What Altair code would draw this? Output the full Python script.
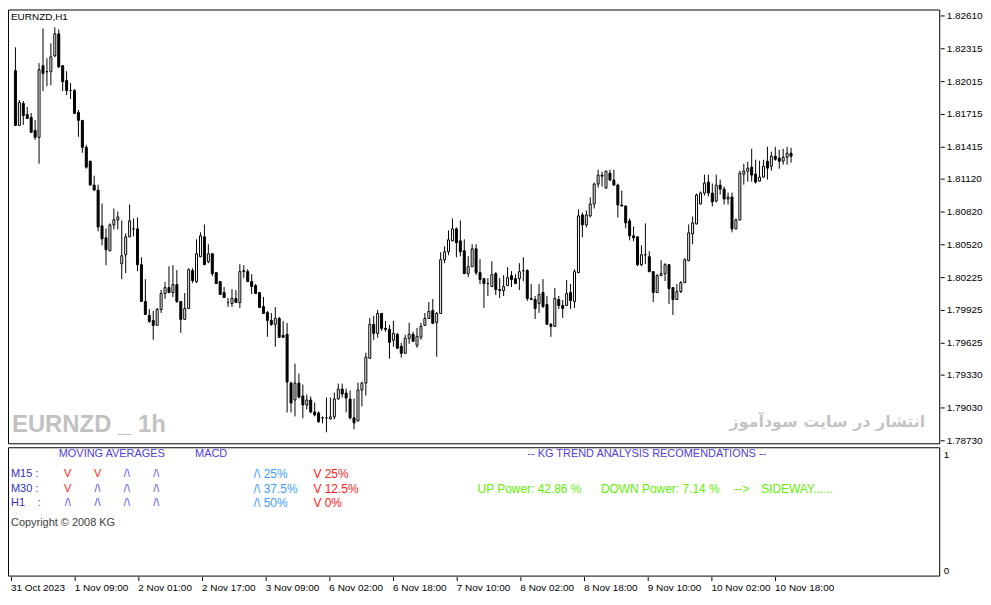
import json
import altair as alt
import pandas as pd

# ---------------- data (EURNZD H1 candles) ----------------
open_ = [1.82113,1.81615,1.81814,1.81715,1.81688,1.81561,1.81506,1.82158,1.82103,1.82103,
 1.82248,1.82447,1.82158,1.82022,1.81932,1.81932,1.81733,1.81652,1.81407,1.81281,
 1.81064,1.81019,1.80693,1.80585,1.80467,1.80702,1.80747,1.80350,1.80431,1.80594,
 1.80666,1.80666,1.80341,1.80006,1.79871,1.79834,1.79780,1.79934,1.80078,1.80133,
 1.80087,1.80160,1.80006,1.79843,1.79943,1.80286,1.80187,1.80413,1.80594,1.80368,
 1.80440,1.80268,1.80187,1.80087,1.79997,1.79988,1.80033,1.79997,1.80277,1.80277,
 1.80187,1.80151,1.80087,1.79961,1.79907,1.79834,1.79789,1.79852,1.79690,1.79699,
 1.79256,1.79102,1.79256,1.79138,1.79057,1.79102,1.78994,1.78985,1.78940,1.78940,
 1.78931,1.78949,1.79111,1.79201,1.79165,1.79111,1.78940,1.78912,1.79192,1.79256,
 1.79482,1.79798,1.79708,1.79898,1.79753,1.79744,1.79644,1.79699,1.79590,1.79527,
 1.79662,1.79699,1.79599,1.79671,1.79780,1.79852,1.79925,1.79816,1.79898,1.80386,
 1.80458,1.80557,1.80666,1.80557,1.80467,1.80259,1.80323,1.80485,1.80268,1.80214,
 1.80169,1.80142,1.80259,1.80114,1.80105,1.80151,1.80241,1.80214,1.80214,1.80286,
 1.80286,1.80033,1.80024,1.79988,1.80087,1.79979,1.79798,1.79771,1.80024,1.79970,
 1.79970,1.80087,1.80006,1.80268,1.80793,1.80702,1.80783,1.80892,1.81073,1.81154,
 1.81037,1.81172,1.81109,1.81064,1.80883,1.80874,1.80738,1.80603,1.80594,1.80341,
 1.80431,1.80413,1.80277,1.80087,1.80241,1.80259,1.80341,1.80133,1.80024,1.80096,
 1.80178,1.80377,1.80621,1.80711,1.80892,1.80991,1.81091,1.80991,1.80919,1.81064,
 1.81028,1.80937,1.80955,1.80666,1.80747,1.81163,1.81190,1.81227,1.81163,1.81100,
 1.81136,1.81281,1.81236,1.81326,1.81308,1.81281,1.81317,1.81353]

close = [1.81615,1.81823,1.81706,1.81679,1.81543,1.81506,1.82122,1.82085,1.82100,1.82239,
 1.82447,1.82149,1.82013,1.81932,1.81930,1.81724,1.81652,1.81407,1.81227,1.81064,
 1.81019,1.80684,1.80576,1.80476,1.80702,1.80747,1.80774,1.80422,1.80594,1.80738,
 1.80663,1.80341,1.80006,1.79880,1.79825,1.79780,1.79934,1.80078,1.80133,1.80087,
 1.80160,1.80006,1.79843,1.79943,1.80295,1.80196,1.80440,1.80603,1.80341,1.80440,
 1.80259,1.80169,1.80069,1.80042,1.79995,1.80033,1.79997,1.80277,1.80280,1.80187,
 1.80142,1.80078,1.79952,1.79898,1.79834,1.79789,1.79852,1.79671,1.79671,1.79265,
 1.79075,1.79256,1.79129,1.79057,1.79102,1.78994,1.78967,1.78903,1.78938,1.78942,
 1.78949,1.79111,1.79201,1.79156,1.79120,1.78940,1.78894,1.79192,1.79256,1.79491,
 1.79789,1.79708,1.79898,1.79753,1.79744,1.79626,1.79708,1.79572,1.79527,1.79662,
 1.79699,1.79635,1.79681,1.79771,1.79852,1.79916,1.79807,1.79898,1.80386,1.80458,
 1.80567,1.80666,1.80539,1.80458,1.80259,1.80323,1.80485,1.80268,1.80205,1.80169,
 1.80166,1.80250,1.80114,1.80105,1.80142,1.80223,1.80205,1.80169,1.80277,1.80283,
 1.80033,1.80024,1.79943,1.80069,1.79961,1.79798,1.79771,1.80033,1.79970,1.79943,
 1.80078,1.80015,1.80277,1.80783,1.80702,1.80793,1.80892,1.81073,1.81154,1.81151,
 1.81190,1.81109,1.81064,1.80883,1.80874,1.80720,1.80603,1.80585,1.80341,1.80431,
 1.80434,1.80277,1.80087,1.80241,1.80259,1.80341,1.80123,1.80024,1.80096,1.80178,
 1.80386,1.80630,1.80720,1.80973,1.80991,1.81082,1.80991,1.80910,1.81064,1.81028,
 1.80937,1.80955,1.80666,1.80747,1.81172,1.81190,1.81217,1.81154,1.81091,1.81136,
 1.81236,1.81217,1.81326,1.81299,1.81281,1.81317,1.81353,1.81326]

high = [1.82320,1.81841,1.81832,1.81778,1.81724,1.81652,1.82176,1.82492,1.82221,1.82356,
 1.82501,1.82483,1.82158,1.82103,1.81995,1.81941,1.81751,1.81652,1.81425,1.81281,
 1.81145,1.81064,1.80892,1.80666,1.80711,1.80847,1.80820,1.80738,1.80621,1.80883,
 1.80756,1.80765,1.80404,1.80205,1.79934,1.79916,1.79943,1.80105,1.80178,1.80323,
 1.80332,1.80286,1.80006,1.80078,1.80305,1.80305,1.80567,1.80630,1.80702,1.80521,
 1.80440,1.80268,1.80187,1.80133,1.80033,1.80114,1.80105,1.80341,1.80332,1.80295,
 1.80250,1.80160,1.80087,1.80042,1.79916,1.79889,1.79952,1.79861,1.79825,1.79807,
 1.79265,1.79428,1.79337,1.79238,1.79147,1.79129,1.79075,1.78994,1.78949,1.79120,
 1.79120,1.79165,1.79247,1.79247,1.79201,1.79183,1.79111,1.79256,1.79265,1.79527,
 1.79852,1.79870,1.79925,1.79898,1.79825,1.79780,1.79825,1.79708,1.79617,1.79690,
 1.79807,1.79717,1.79753,1.79807,1.79889,1.79997,1.80024,1.79907,1.80449,1.80503,
 1.80648,1.80756,1.80675,1.80738,1.80567,1.80413,1.80521,1.80521,1.80386,1.80214,
 1.80214,1.80368,1.80268,1.80214,1.80241,1.80314,1.80277,1.80250,1.80350,1.80404,
 1.80295,1.80160,1.80051,1.80160,1.80205,1.80051,1.79807,1.80123,1.80051,1.80015,
 1.80196,1.80160,1.80295,1.80838,1.80811,1.80829,1.80946,1.81082,1.81199,1.81181,
 1.81195,1.81199,1.81199,1.81073,1.81010,1.80874,1.80756,1.80684,1.80594,1.80512,
 1.80711,1.80458,1.80277,1.80250,1.80377,1.80345,1.80341,1.80133,1.80160,1.80187,
 1.80395,1.80702,1.80774,1.80982,1.81000,1.81154,1.81154,1.81073,1.81154,1.81109,
 1.81046,1.80991,1.80991,1.80756,1.81190,1.81254,1.81272,1.81389,1.81290,1.81281,
 1.81290,1.81407,1.81362,1.81407,1.81380,1.81389,1.81407,1.81398]

low = [1.81606,1.81606,1.81615,1.81661,1.81534,1.81479,1.81254,1.81923,1.81968,1.81977,
 1.82230,1.82131,1.81923,1.81886,1.81850,1.81715,1.81506,1.81353,1.81209,1.81055,
 1.81010,1.80639,1.80512,1.80332,1.80458,1.80657,1.80657,1.80205,1.80259,1.80585,
 1.80594,1.80277,1.79997,1.79871,1.79807,1.79644,1.79780,1.79898,1.80024,1.80078,
 1.80042,1.79988,1.79708,1.79843,1.79934,1.80169,1.80169,1.80404,1.80332,1.80350,
 1.80232,1.80165,1.80065,1.80033,1.79952,1.79952,1.79988,1.79943,1.80214,1.80178,
 1.80069,1.80069,1.79943,1.79889,1.79671,1.79771,1.79581,1.79668,1.79662,1.78985,
 1.78985,1.78949,1.79111,1.78931,1.79012,1.78976,1.78949,1.78894,1.78885,1.78804,
 1.78921,1.78921,1.79102,1.79120,1.78985,1.78921,1.78831,1.78903,1.79039,1.79138,
 1.79473,1.79644,1.79662,1.79726,1.79717,1.79473,1.79581,1.79568,1.79482,1.79518,
 1.79608,1.79626,1.79572,1.79644,1.79771,1.79843,1.79798,1.79491,1.79889,1.80350,
 1.80422,1.80548,1.80404,1.80413,1.80250,1.80223,1.80314,1.80241,1.80160,1.79943,
 1.80051,1.80133,1.80060,1.80033,1.80051,1.80142,1.80133,1.80160,1.80105,1.80187,
 1.80006,1.80015,1.79843,1.79898,1.79943,1.79789,1.79671,1.79762,1.79934,1.79852,
 1.79961,1.79934,1.79943,1.80259,1.80585,1.80675,1.80765,1.80847,1.81037,1.81046,
 1.81028,1.81100,1.81055,1.80765,1.80865,1.80666,1.80557,1.80548,1.80323,1.80323,
 1.80341,1.80268,1.79997,1.80078,1.80232,1.80187,1.79979,1.79871,1.80015,1.80078,
 1.80169,1.80368,1.80521,1.80702,1.80883,1.80964,1.80955,1.80865,1.80901,1.80973,
 1.80883,1.80883,1.80630,1.80660,1.80738,1.81064,1.81091,1.81091,1.81073,1.81091,
 1.81127,1.81109,1.81190,1.81281,1.81209,1.81245,1.81245,1.81263]

price_ticks = [1.82610, 1.82315, 1.82015, 1.81715, 1.81415, 1.81120, 1.80820,
               1.80520, 1.80225, 1.79925, 1.79625, 1.79330, 1.79030, 1.78730]

time_tick_bars = [0, 16, 32, 48, 64, 80, 96, 112, 128, 144, 160, 176, 192]
time_tick_labels = ["31 Oct 2023", "1 Nov 09:00", "2 Nov 01:00", "2 Nov 17:00",
                    "3 Nov 09:00", "6 Nov 02:00", "6 Nov 18:00", "7 Nov 10:00",
                    "8 Nov 02:00", "8 Nov 18:00", "9 Nov 10:00", "10 Nov 02:00",
                    "10 Nov 18:00"]

ma_rows = ["M15 :", "M30 :", "H1"]
ma_signals = [["V", "V", "/\\", "/\\"],
              ["V", "/\\", "/\\", "/\\"],
              ["/\\", "/\\", "/\\", "/\\"]]
macd_up = ["/\\ 25%", "/\\ 37.5%", "/\\ 50%"]
macd_down = ["V 25%", "V 12.5%", "V 0%"]
up_power = 42.86
down_power = 7.14

# ---------------- table ----------------
n = len(close)
df = pd.DataFrame({"bar": list(range(n)), "open": open_, "high": high,
                   "low": low, "close": close})

FONT = "Liberation Sans"
MAIN_W, MAIN_H, LOW_H = 937, 437, 130
xscale = alt.Scale(domain=[-0.625, 233.625], nice=False, zero=False)
yscale = alt.Scale(domain=[1.78694, 1.82665], nice=False, zero=False, round=True)
y_axis = alt.Axis(orient="right", values=price_ticks, format=".5f", tickSize=4,
                  labelPadding=2, domain=False, grid=False, labelOverlap=False,
                  labelBound=False, labelFlush=False)

one = pd.DataFrame({"k": [0]})


def frame(w, h):
    return alt.Chart(one).mark_rect(filled=False, stroke="black", strokeWidth=1).encode(
        x=alt.value(0.5), x2=alt.value(w - 0.5), y=alt.value(0.5), y2=alt.value(h - 0.5))


def txt(s, x, y, color, size=11, font=FONT, weight="normal", align="left"):
    return alt.Chart(one).mark_text(
        text=s, align=align, baseline="middle", fontSize=size, font=font,
        color=color, fontWeight=weight,
    ).encode(x=alt.value(x), y=alt.value(y))


base = alt.Chart(df)
x_enc = alt.X("bar:Q", scale=xscale, axis=None)

wick = base.mark_rule(color="black", strokeWidth=1).encode(
    x=x_enc,
    y=alt.Y("low:Q", scale=yscale, title=None, axis=y_axis),
    y2="high:Q",
)
body = base.mark_bar(size=2, stroke="black", strokeWidth=1, yOffset=0.5, y2Offset=0.5).encode(
    x=x_enc,
    y=alt.Y("open:Q", scale=yscale, title=None, axis=y_axis),
    y2="close:Q",
    fill=alt.condition("datum.close >= datum.open", alt.value("white"), alt.value("black")),
)

wm1 = txt("EURNZD _ 1h", 4, 418, "#c2c2c2", size=24, weight="bold")
wm2 = txt("انتشار در سایت سودآموز", 922, 415, "#c4c4c4", size=16,
          font="DejaVu Sans", weight="bold", align="right")
sym = txt("EURNZD,H1", 3, 8, "black", size=10)

main = alt.layer(wm1, wm2, wick, body, sym, frame(MAIN_W, MAIN_H)).properties(
    width=MAIN_W, height=MAIN_H)

# ---------------- lower indicator panel ----------------
HEAD = "#5040e0"
ROW = "#3030c0"
UPC = "#5a4ff0"
DNC = "#ff2020"
PCT = "#3c9cff"
GREEN = "#60f000"

label_expr = f"{json.dumps(time_tick_labels)}[indexof({json.dumps(time_tick_bars)}, datum.value)]"
axis_df = pd.DataFrame({"bar": [time_tick_bars[0], time_tick_bars[-1]], "v": [0, 1]})
axis_layer = alt.Chart(axis_df).mark_point(opacity=0, size=0).encode(
    x=alt.X("bar:Q", scale=xscale, title=None,
            axis=alt.Axis(values=time_tick_bars, labelExpr=label_expr, labelAlign="left",
                          tickSize=4, labelPadding=2, domain=False, grid=False,
                          labelOverlap=False, labelBound=False, labelFlush=False)),
    y=alt.Y("v:Q", scale=alt.Scale(domain=[-0.0513, 1.0598], nice=False, zero=False), title=None,
            axis=alt.Axis(orient="right", values=[0, 1], format="d", tickSize=0,
                          labelPadding=3, domain=False, grid=False, labelOverlap=False)),
)

layers = [axis_layer, frame(MAIN_W, LOW_H),
          txt("MOVING AVERAGES", 51, 7, HEAD),
          txt("MACD", 188, 7, HEAD),
          txt("-- KG TREND ANALYSIS RECOMENDATIONS --", 522, 7, HEAD),
          txt("Copyright © 2008 KG", 3, 76, "#404040")]
row_y = [27, 42, 56]
col_x = [60, 90, 119.5, 149]
for r, name in enumerate(ma_rows):
    layers.append(txt(name, 3, row_y[r], ROW))
    if name == "H1":
        layers.append(txt(":", 30, row_y[r], "#8040c0"))
    for c, s in enumerate(ma_signals[r]):
        layers.append(txt(s, col_x[c], row_y[r], DNC if s == "V" else UPC, align="center"))
    layers.append(txt(macd_up[r], 247, row_y[r], PCT, size=12))
    layers.append(txt(macd_down[r], 307, row_y[r], DNC, size=12))

layers += [
    txt(f"UP Power: {up_power:.2f} %", 472, 42, GREEN, size=12),
    txt(f"DOWN Power: {down_power:.2f} %", 596, 42, GREEN, size=12),
    txt("-->", 730, 42, GREEN, size=12),
    txt("SIDEWAY......", 757, 42, GREEN, size=12),
]
lower = alt.layer(*layers).properties(width=MAIN_W, height=LOW_H)

chart = alt.vconcat(main, lower, spacing=2).properties(
    padding=0, background="white"
).configure_view(strokeWidth=0, strokeOpacity=0).configure_axis(
    labelFont=FONT, labelFontSize=10, labelColor="black", tickColor="black"
)

chart.save("out.html", embed_options={"renderer": "svg", "actions": False})
